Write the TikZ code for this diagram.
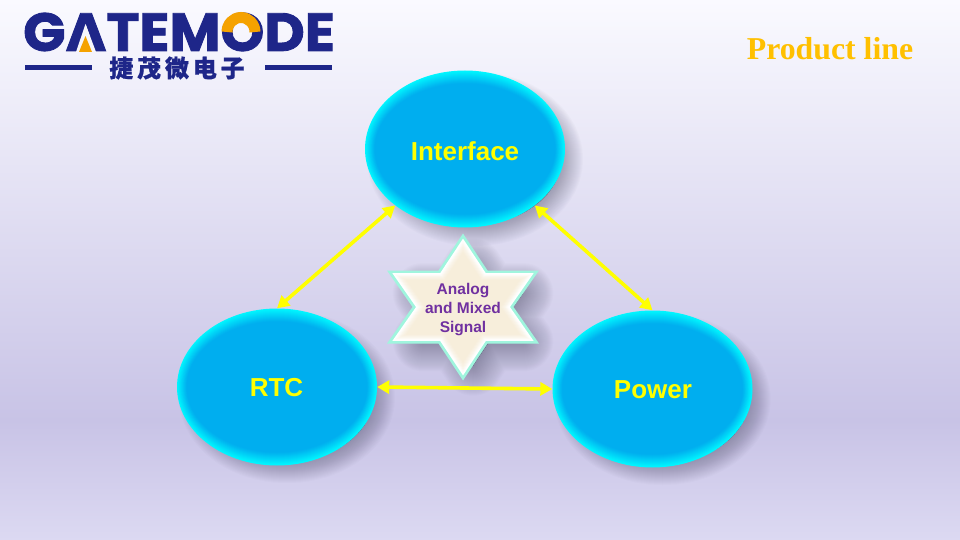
\documentclass[tikz,border=0pt]{standalone}
\usepackage{fontspec}
\setmainfont{Liberation Sans}
\newfontfamily\titlefont{Liberation Serif}
\newfontfamily\logofont{Poppins}
\newfontfamily\cjkfont{Noto Sans CJK SC}
\usetikzlibrary{arrows.meta,shapes.geometric}
\definecolor{logoblue}{HTML}{1E2689}
\definecolor{logoorange}{HTML}{F5A200}
\definecolor{bevelout}{HTML}{00F6FF}
\definecolor{bevelin}{HTML}{00AEEF}
\definecolor{starmint}{HTML}{A0F5DE}
\definecolor{starcream}{HTML}{F7EEDB}
\definecolor{shadowc}{HTML}{40405A}
\definecolor{linkyellow}{HTML}{FFFF00}
\definecolor{startextc}{HTML}{7030A0}
\definecolor{bgtop}{HTML}{FAFAFF}
\definecolor{bgmid}{HTML}{C8C3E6}
\definecolor{bgbot}{HTML}{DCD9F2}
\definecolor{bglogo}{HTML}{F6F6FC}
\tikzset{
  bubble/.style={ellipse,inner sep=0pt,minimum width=200pt,minimum height=157pt,fill=bevelout},
  bubbletext/.style={font=\bfseries\fontsize{26}{30}\selectfont,text=linkyellow,inner sep=0pt},
  link/.style={draw=linkyellow,line width=3.6pt,{Triangle[length=12pt,width=13pt]}-{Triangle[length=12pt,width=13pt]}},
  startext/.style={font=\bfseries\fontsize{15.5}{19}\selectfont,text=startextc,align=center,inner sep=0pt},
}
\newcommand{\ellshadow}[4]{%
  \foreach \w in {44,42,...,0}{
    \fill[shadowc,opacity=.02,draw=shadowc,line width=\w pt] (#1+10,#2+10) ellipse [x radius=#3-14,y radius=#4-14];
  }}
\newcommand{\ellbevel}[4]{%
  \foreach \d/\p in {1/92,2/84,3/76,4/68,5/60,6/52,7/44,8/36,9/28,10/20,11/12,12/6,13/0}{
    \fill[bevelout!\p!bevelin] (#1,#2) ellipse [x radius=#3-.75*\d,y radius=#4-\d];
  }}
\newcommand{\starpath}[1]{(463,307.5)++(0,{-74*#1}) -- ++({24.5*#1},{37*#1}) -- ++({51.5*#1},0) -- ++({-25.5*#1},{36.5*#1}) -- ++({25.5*#1},{36.5*#1}) -- ++({-51.5*#1},0) -- ++({-24.5*#1},{37*#1}) -- ++({-24.5*#1},{-37*#1}) -- ++({-51.5*#1},0) -- ++({25.5*#1},{-36.5*#1}) -- ++({-25.5*#1},{-36.5*#1}) -- ++({51.5*#1},0) -- cycle}
\begin{document}
\begin{tikzpicture}[x=1pt,y=-1pt]
\useasboundingbox (0,0) rectangle (960,540);
% background
\shade[top color=bgtop,bottom color=bgmid] (0,0) rectangle (960,421);
\shade[top color=bgmid,bottom color=bgbot] (0,420) rectangle (960,540);
% shadows
\ellshadow{465}{149}{100}{79}
\ellshadow{277}{387}{100}{78}
\ellshadow{652.5}{389}{100}{78}
\begin{scope}[shift={(10,10)}]
\foreach \w in {60,58,...,0}{
  \fill[shadowc,opacity=.017,draw=shadowc,line width=\w pt,line join=round] \starpath{.66};
}
\end{scope}
% bubbles
\node[bubble] (iface) at (465,149) {};
\ellbevel{465}{149}{100}{78.5}
\node[bubble] (rtc) at (277,387) {};
\ellbevel{277}{387}{100}{78.5}
\node[bubble] (power) at (652.5,389) {};
\ellbevel{652.5}{389}{100}{78.5}
\node[bubbletext] (ifacet) at (465,151) {Interface};
\node[bubbletext] (rtct) at (276.5,388) {RTC};
\node[bubbletext] (powert) at (653,390) {Power};
% connectors
\draw[link] (iface.219) -- (rtc.north);
\draw[link] (iface.321) -- (power.north);
\draw[link] (rtc.east) -- (power.west);
% star
\fill[starmint] \starpath{1};
\fill[white] \starpath{.93};
\foreach \s/\p in {.89/85,.87/70,.85/55,.83/40,.81/30,.79/20,.77/10,.75/0}{
  \fill[white!\p!starcream] \starpath{\s};
}
\node[startext] (star) at (463,309.5) {Analog\\and Mixed\\Signal};
% title
\node[font=\titlefont\bfseries\fontsize{31.8}{36}\selectfont,text={rgb,255:red,255;green,192;blue,0},inner sep=0pt] (title) at (830,49) {Product line};
% logo
\node[inner sep=0pt,text=logoblue] (logo) at (179,32) {\scalebox{1.07}[1.03]{\logofont\bfseries\fontsize{52}{40}\selectfont\addfontfeature{FakeBold=1.6}GATEMODE}};
\fill[bglogo] (85.5,24) -- (76,52) -- (96,52) -- cycle;
\fill[logoorange] (79,52) -- (92,52) -- (85.5,36) -- cycle;
\draw[logoorange,line width=11pt] (227,32) arc [start angle=180,end angle=360,x radius=14,y radius=14.5];
\node[inner sep=0pt,text=logoblue] (logocn) at (177,68) {\cjkfont\bfseries\fontsize{24}{26}\selectfont\addfontfeature{LetterSpace=16,FakeBold=.8}捷茂微电子};
\coordinate (la) at (25,68); \coordinate (lb) at (92,68); \coordinate (lc) at (265,68); \coordinate (ld) at (332,68);
\draw[logoblue,line width=5pt] (la) -- (lb);
\draw[logoblue,line width=5pt] (lc) -- (ld);
\end{tikzpicture}
\end{document}
